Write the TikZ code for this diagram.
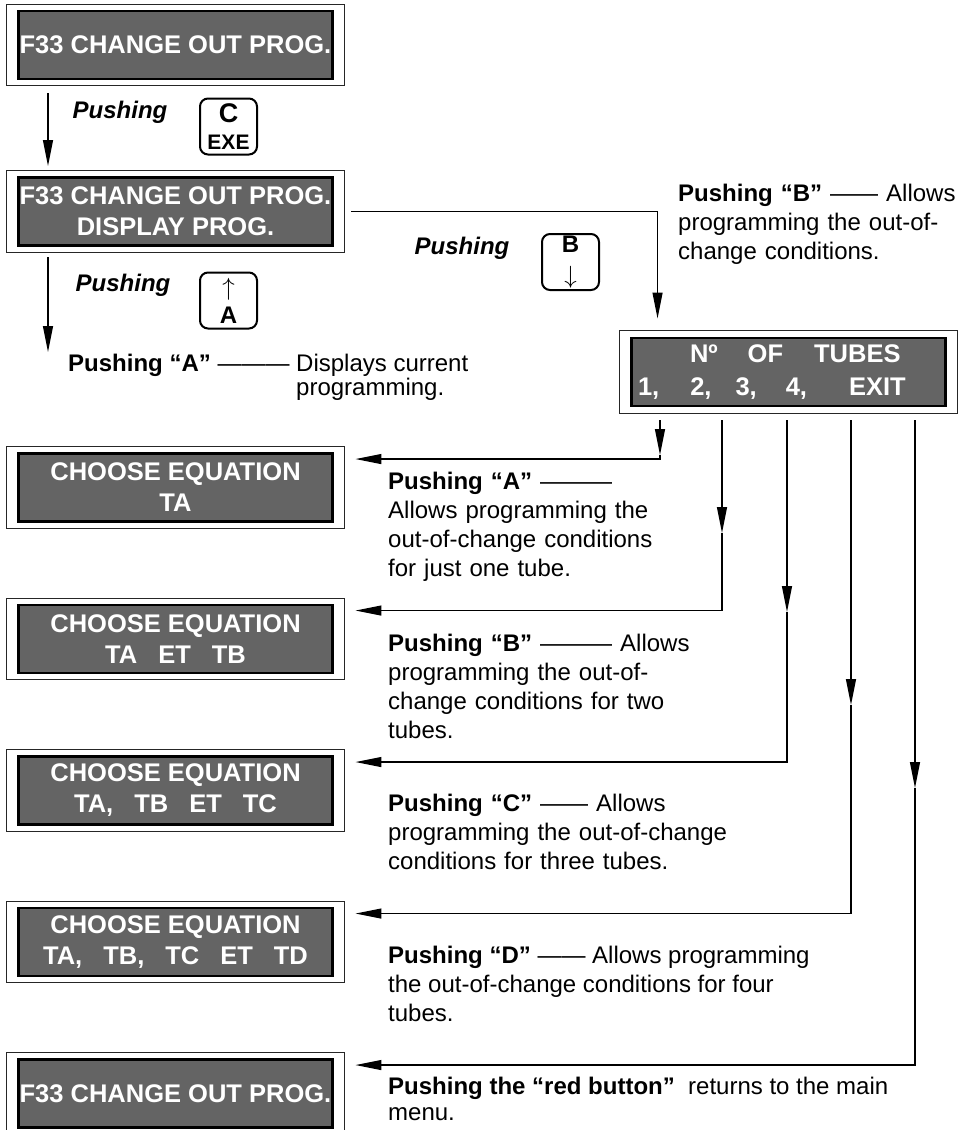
\documentclass[tikz,border=0pt]{standalone}
\usepackage{fontspec}
\setmainfont{Liberation Sans}
\usetikzlibrary{arrows.meta,fit,calc}

\definecolor{lcdgrey}{RGB}{100,100,100}
\newcommand{\lcdfont}{\fontsize{25.5}{31}\selectfont\bfseries}
\newcommand{\txtfont}{\fontsize{24}{29}\selectfont}
\newcommand{\keyfont}{\fontsize{24}{24}\selectfont\bfseries}
\newcommand{\keyarrow}[1]{{\fontsize{29}{29}\selectfont\mdseries$#1$}}
\newcommand{\jline}[2]{\makebox[#1][s]{#2}}
\newcommand{\lgap}{\hspace{21pt}}

\tikzset{
  lcd/.style={draw=black, line width=2.8pt, fill=lcdgrey, text=white, font=\lcdfont,
    minimum width=314pt, minimum height=68pt, inner sep=0pt, align=center},
  lcdframe/.style={draw=black!85, line width=1.1pt, inner xsep=11pt, inner ysep=5.5pt},
  key/.style={draw=black, line width=2pt, rounded corners=8pt, minimum width=57pt,
    minimum height=56pt, inner sep=0pt, align=center, font=\keyfont},
  push/.style={font=\fontsize{24}{24}\selectfont\bfseries\itshape},
  note/.style={anchor=north west, inner sep=0pt, align=left, font=\txtfont},
  flow/.style={-{Triangle[length=26pt,width=10pt]}, line width=1.2pt},
}

\begin{document}
\begin{tikzpicture}[x=1pt,y=-1pt]
\useasboundingbox (0,0) rectangle (960,1130);
% displays on the left
    \node[lcd] (d1) at (175.5,45) {F33 CHANGE OUT PROG.};
    \node[lcdframe, fit=(d1)] (f1) {};
    \node[lcd] (d2) at (175.5,211.5) {F33 CHANGE OUT PROG.\\DISPLAY PROG.};
    \node[lcdframe, fit=(d2)] (f2) {};
    \node[lcd] (eqA) at (175.5,487.5) {CHOOSE EQUATION\\TA};
    \node[lcdframe, fit=(eqA)] (fA) {};
    \node[lcd] (eqB) at (175.5,639) {CHOOSE EQUATION\\TA\lgap ET\lgap TB};
    \node[lcdframe, fit=(eqB)] (fB) {};
    \node[lcd] (eqC) at (175.5,790.5) {CHOOSE EQUATION\\TA,\lgap TB\lgap ET\lgap TC};
    \node[lcdframe, fit=(eqC)] (fC) {};
    \node[lcd] (eqD) at (175.5,942) {CHOOSE EQUATION\\TA,\lgap TB,\lgap TC\lgap ET\lgap TD};
    \node[lcdframe, fit=(eqD)] (fD) {};
    \node[lcd] (d3) at (175.5,1093.5) {F33 CHANGE OUT PROG.};
    \node[lcdframe, fit=(d3)] (fE) {};
% number of tubes
    \node[lcd, text width=301pt, align=left] (tubes) at (788.5,372)
      {\hspace*{52pt}Nº\hspace{30pt}OF\hspace{31pt}TUBES\\[2pt]1,\hspace{31pt}2,\hspace{24pt}3,\hspace{29pt}4,\hspace{42pt}EXIT};
    \node[lcdframe, fit=(tubes), inner ysep=6.5pt] (ft) {};
% keys
    \node[key] (kC) at (228.5,126.5) {{\fontsize{27}{27}\selectfont C}\\[3pt]{\fontsize{21}{21}\selectfont EXE}};
    \node[key] (kB) at (570.5,262) {B\\[7pt]\keyarrow{\downarrow}};
    \node[key] (kA) at (228.5,300.5) {\keyarrow{\uparrow}\\[4pt]A};
    \node[push] (pC) at (120,112) {Pushing};
    \node[push] (pB) at (462,248) {Pushing};
    \node[push] (pA) at (123,285) {Pushing};
% texts
    \node[note, text width=268pt] (nB0) at (678,184)
      {\jline{268pt}{\textbf{Pushing “B”} —— Allows}\\
       \jline{268pt}{programming the out-of-}\\
       change conditions.};
    \node[note] (nA0) at (68,354)
      {\textbf{Pushing “A”} ——— Displays current\\[-5pt]
       \hphantom{\textbf{Pushing “A”} ——— }programming.};
    \node[note, text width=272pt] (nA) at (388,472)
      {\textbf{Pushing “A”} ———\\
       \jline{272pt}{Allows programming the}\\
       \jline{272pt}{out-of-change conditions}\\
       for just one tube.};
    \node[note, text width=297pt] (nB) at (388,634)
      {\jline{297pt}{\textbf{Pushing “B”} ——— Allows}\\
       \jline{297pt}{programming the out-of-}\\
       change conditions for two\\
       tubes.};
    \node[note, text width=352pt] (nC) at (388,794)
      {\textbf{Pushing “C”} —— Allows\\
       \jline{352pt}{programming the out-of-change}\\
       conditions for three tubes.};
    \node[note] (nD) at (388,946)
      {\textbf{Pushing “D”} —— Allows programming\\
       the out-of-change conditions for four\\
       tubes.};
    \node[note] (nE) at (388,1077)
      {\textbf{Pushing the “red button”}\ \ returns to the main\\[-3pt]
       menu.};
% connectors
    \coordinate (s1) at (48,93);
    \coordinate (s2) at (48,257);
    \coordinate (e2) at (48,352);
    \draw[flow, shorten >=4pt] (s1) -- (s1 |- f2.north);
    \draw[flow] (s2) -- (e2);
    \draw[flow, shorten >=11pt] ([xshift=6pt]f2.east) -| ($(ft.north west)+(39,0)$);
    \foreach \i/\xx/\yy in {1/660/455,2/722/533,3/787/612,4/851/705,5/915/788}{
      \coordinate (top\i) at (\xx,420);
      \coordinate (mid\i) at (\xx,\yy);}
    \foreach \b in {A,B,C,D,E}{\coordinate (in\b) at ([shift={(10,13)}]f\b.north east);}
    \foreach \i/\b in {1/A,2/B,3/C,4/D,5/E}{
      \draw[flow] (top\i) -- (mid\i);
      \draw[flow] (mid\i) |- (in\b);}
\end{tikzpicture}
\end{document}
